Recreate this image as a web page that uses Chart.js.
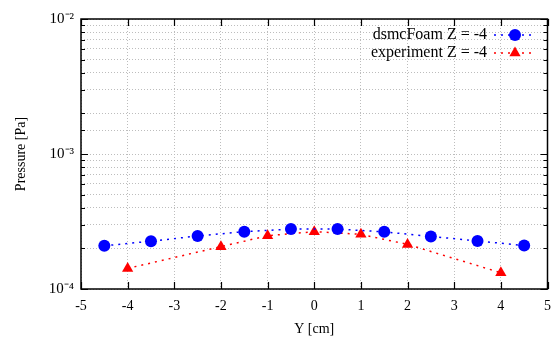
<!DOCTYPE html>
<html>
<head>
<meta charset="utf-8">
<script src="https://cdn.jsdelivr.net/npm/chart.js@4.4.1/dist/chart.umd.min.js"></script>
<style>
html,body{margin:0;padding:0;background:#fff;}
#wrap{width:560px;height:338px;position:relative;}
</style>
</head>
<body>
<div id="wrap"><canvas id="c" width="560" height="338"></canvas></div>
<script>
// Data
const dsmcY = [-4.5, -3.5, -2.5, -1.5, -0.5, 0.5, 1.5, 2.5, 3.5, 4.5];
const dsmcP = [2.09e-4, 2.26e-4, 2.47e-4, 2.66e-4, 2.78e-4, 2.78e-4, 2.65e-4, 2.45e-4, 2.27e-4, 2.10e-4];
const expY = [-4, -2, -1, 0, 1, 2, 4];
const expP = [1.42e-4, 2.06e-4, 2.48e-4, 2.66e-4, 2.54e-4, 2.14e-4, 1.32e-4];
const xTicks = [-5, -4, -3, -2, -1, 0, 1, 2, 3, 4, 5];
const yTickLabels = {'-2': '10\u207B\u00B2', '-3': '10\u207B\u00B3', '-4': '10\u207B\u2074'};
const seriesNames = ['dsmcFoam Z = -4', 'experiment Z = -4'];

const SERIF = '"Liberation Serif", "Times New Roman", serif';
const BLUE = '#0000ff', RED = '#ff0000';

function pts(xs, ys){ return xs.map((x,i)=>({x:x, y:ys[i]})); }
function isMajor(v){ const l = Math.log10(v); return Math.abs(l - Math.round(l)) < 1e-6; }

const innerTicks = {
  id: 'innerTicks',
  afterDatasetsDraw(chart){
    const ctx = chart.ctx, a = chart.chartArea;
    const xs = chart.scales.x, ys = chart.scales.y;
    ctx.save();
    ctx.strokeStyle = '#000';
    ctx.lineWidth = 1.2;
    ctx.beginPath();
    xTicks.forEach(v=>{
      const px = Math.round(xs.getPixelForValue(v)) + 0.5;
      ctx.moveTo(px, a.bottom); ctx.lineTo(px, a.bottom - 7);
      ctx.moveTo(px, a.top); ctx.lineTo(px, a.top + 7);
    });
    ys.ticks.forEach(t=>{
      const py = Math.round(ys.getPixelForValue(t.value)) + 0.5;
      const len = isMajor(t.value) ? 7 : 4;
      ctx.moveTo(a.left, py); ctx.lineTo(a.left + len, py);
      ctx.moveTo(a.right, py); ctx.lineTo(a.right - len, py);
    });
    ctx.stroke();
    ctx.lineWidth = 1.5;
    ctx.strokeRect(a.left, a.top, a.right - a.left, a.bottom - a.top);
    ctx.restore();
  }
};

const insideLegend = {
  id: 'insideLegend',
  afterDatasetsDraw(chart){
    const ctx = chart.ctx;
    const rows = [35, 53];
    ctx.save();
    ctx.font = '16px ' + SERIF;
    ctx.textAlign = 'right';
    ctx.textBaseline = 'middle';
    chart.data.datasets.forEach((ds, i)=>{
      const y = rows[i];
      ctx.fillStyle = '#000';
      ctx.fillText(ds.label, 487, y);
      ctx.strokeStyle = ds.borderColor;
      ctx.lineWidth = ds.borderWidth;
      ctx.setLineDash(ds.borderDash);
      ctx.beginPath(); ctx.moveTo(494, y); ctx.lineTo(532, y); ctx.stroke();
      ctx.setLineDash([]);
      ctx.fillStyle = ds.pointBackgroundColor;
      Chart.helpers.drawPoint(ctx, {pointStyle: ds.pointStyle, radius: ds.pointRadius, rotation: 0, borderWidth: 0}, 515, y);
    });
    ctx.restore();
  }
};

new Chart(document.getElementById('c'), {
  type: 'scatter',
  data: {
    datasets: [
      {label: seriesNames[0], data: pts(dsmcY, dsmcP), showLine: true,
       borderColor: BLUE, backgroundColor: BLUE, pointBackgroundColor: BLUE, pointBorderColor: BLUE,
       borderWidth: 1.5, borderDash: [2, 5], pointStyle: 'circle', pointRadius: 6, pointBorderWidth: 0},
      {label: seriesNames[1], data: pts(expY, expP), showLine: true,
       borderColor: RED, backgroundColor: RED, pointBackgroundColor: RED, pointBorderColor: RED,
       borderWidth: 1.5, borderDash: [2, 5], pointStyle: 'triangle', pointRadius: 6.5, pointBorderWidth: 0}
    ]
  },
  options: {
    responsive: false,
    animation: false,
    layout: {padding: {top: 19, right: 9, left: 0, bottom: 0}},
    plugins: {legend: {display: false}, tooltip: {enabled: false}},
    scales: {
      x: {
        type: 'linear', min: -5, max: 5,
        afterFit(s){ s.height = 49; },
        afterBuildTicks(s){ s.ticks = xTicks.map(v=>({value: v})); },
        border: {display: false, dash: [1, 2]},
        grid: {color: '#bdbdbd', lineWidth: 1, drawTicks: false},
        ticks: {padding: 9, color: '#000', font: {family: SERIF, size: 14}, callback: v => String(v)},
        title: {display: true, text: 'Y [cm]', color: '#000', font: {family: SERIF, size: 14}, padding: {top: 0, bottom: 0}}
      },
      y: {
        type: 'logarithmic', min: 1e-4, max: 1e-2,
        afterFit(s){ s.width = 81; },
        border: {display: false, dash: [1, 2]},
        grid: {color: '#bdbdbd', lineWidth: 1, drawTicks: false},
        ticks: {padding: 7, color: '#000', autoSkip: false, font: {family: SERIF, size: 15},
          callback: v => { if (!isMajor(v)) return ''; return yTickLabels[String(Math.round(Math.log10(v)))] || ''; }},
        title: {display: true, text: 'Pressure [Pa]', color: '#000', font: {family: SERIF, size: 14}, padding: {top: 13, bottom: 0}}
      }
    }
  },
  plugins: [innerTicks, insideLegend]
});
</script>
</body>
</html>
